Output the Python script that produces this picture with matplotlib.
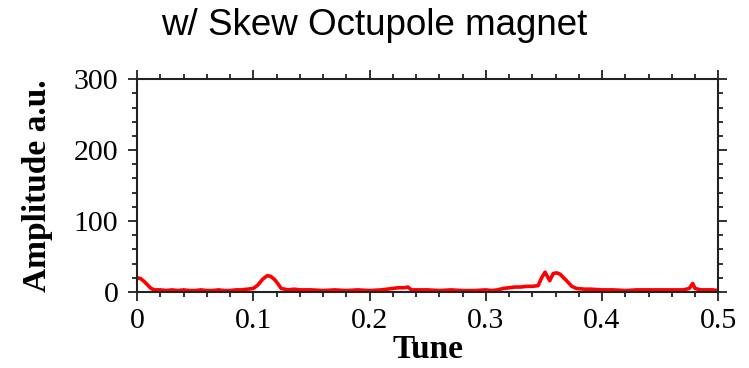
import matplotlib
matplotlib.use("Agg")
import matplotlib.pyplot as plt
from matplotlib.ticker import MultipleLocator

# tune spectrum amplitude, skew octupole on
tune = [0.000, 0.003, 0.006, 0.009, 0.012, 0.015, 0.020, 0.025, 0.030, 0.035,
        0.040, 0.045, 0.050, 0.055, 0.060, 0.065, 0.070, 0.075, 0.080, 0.085,
        0.090, 0.095, 0.100, 0.104, 0.108, 0.112, 0.115, 0.118, 0.121, 0.124,
        0.127, 0.130, 0.135, 0.140, 0.150, 0.160, 0.170, 0.180, 0.190, 0.200,
        0.210, 0.215, 0.220, 0.225, 0.230, 0.233, 0.236, 0.240, 0.250, 0.260,
        0.270, 0.280, 0.290, 0.300, 0.305, 0.310, 0.315, 0.320, 0.325, 0.330,
        0.335, 0.340, 0.345, 0.348, 0.351, 0.353, 0.355, 0.358, 0.361, 0.364,
        0.367, 0.370, 0.374, 0.378, 0.385, 0.390, 0.400, 0.410, 0.420, 0.430,
        0.440, 0.450, 0.460, 0.470, 0.475, 0.478, 0.480, 0.485, 0.490, 0.495,
        0.500]
amp = [20, 19, 15, 10, 5, 3, 3, 2, 3, 2,
       3, 2, 2, 3, 2, 2, 3, 2, 2, 3,
       3, 4, 5, 10, 18, 23, 22, 18, 12, 5,
       4, 3, 4, 3, 3, 2, 3, 2, 3, 2,
       3, 4, 5, 6, 6, 7, 3, 3, 3, 2,
       3, 2, 2, 3, 2, 3, 5, 6, 7, 7,
       8, 8, 9, 20, 28, 22, 16, 26, 27, 25,
       20, 15, 8, 5, 4, 4, 3, 3, 2, 3,
       3, 3, 3, 3, 5, 12, 5, 3, 3, 3,
       2]

fig = plt.figure(figsize=(7.49, 3.68), dpi=100)
ax = fig.add_axes([0.183, 0.2065, 0.776, 0.5785])

ax.plot(tune, amp, color="#ff0000", lw=2.6, solid_joinstyle="round")

ax.set_xlim(0, 0.5)
ax.set_ylim(0, 300)
ax.xaxis.set_major_locator(MultipleLocator(0.1))
ax.xaxis.set_minor_locator(MultipleLocator(0.02))
ax.yaxis.set_major_locator(MultipleLocator(100))
ax.yaxis.set_minor_locator(MultipleLocator(20))
ax.xaxis.set_major_formatter(plt.FuncFormatter(lambda v, p: "0" if v == 0 else f"{v:g}"))

serif = ["Liberation Serif", "DejaVu Serif"]
ax.tick_params(which="both", direction="out", top=True, right=True,
               labelsize=21.5, width=1.3, color="#222222", labelcolor="black")
ax.tick_params(which="major", length=6.5)
ax.tick_params(which="minor", length=3.3)
ax.tick_params(axis="x", pad=5)
ax.tick_params(axis="y", pad=7)
for lab in ax.get_xticklabels() + ax.get_yticklabels():
    lab.set_family(serif)
for s in ax.spines.values():
    s.set_linewidth(1.5)
    s.set_color("#222222")

ax.set_xlabel("Tune", family=serif, fontweight="bold", fontsize=24, labelpad=0)
ax.set_ylabel("Amplitude a.u.", family=serif, fontweight="bold", fontsize=24, labelpad=15)

fig.text(0.5, 0.93, "w/ Skew Octupole magnet", family="Liberation Sans",
         fontsize=26.5, ha="center", va="center")

fig.savefig("out.png", dpi=100)
